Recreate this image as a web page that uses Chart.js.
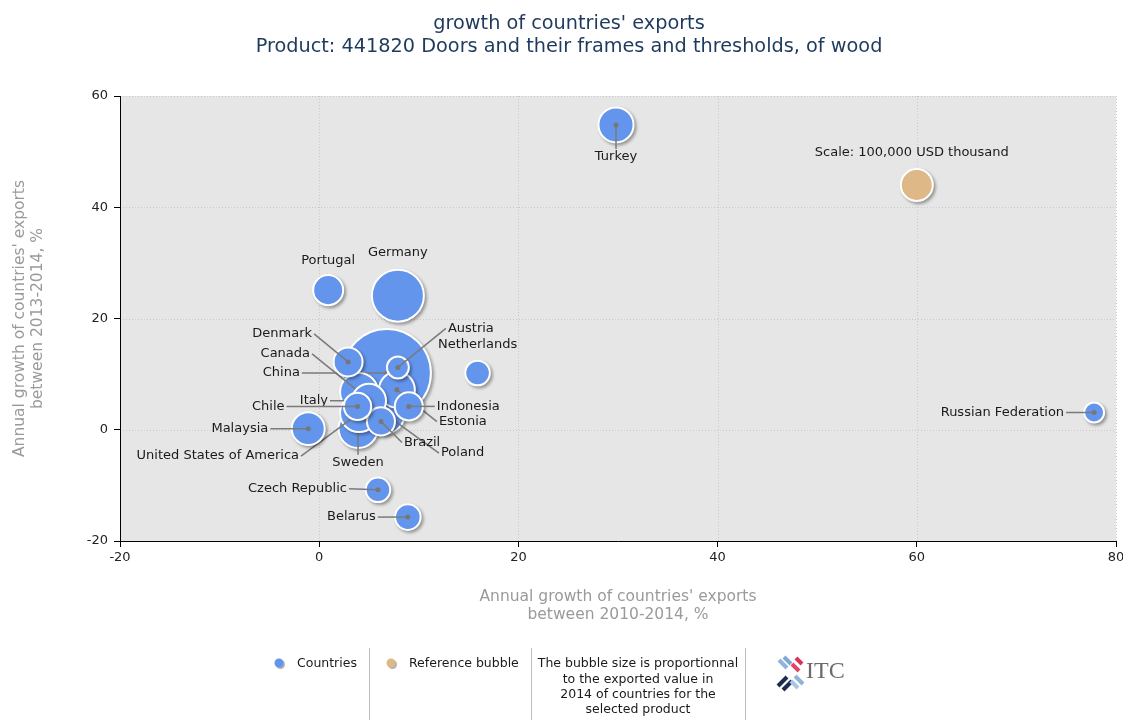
<!DOCTYPE html>
<html><head><meta charset="utf-8">
<script src="https://cdn.jsdelivr.net/npm/chart.js@4.4.1/dist/chart.umd.min.js"></script>
<style>html,body{margin:0;padding:0;background:#fff}canvas{display:block}</style>
</head><body>
<canvas id="c" width="1123" height="720"></canvas>
<script>
// ---- data ----
const countries = ["China","Germany","Poland","Sweden","USA","Canada","Estonia","Turkey","Italy","Malaysia","Portugal","Denmark","Indonesia","Brazil","Chile","Belarus","Czech Republic","Netherlands","Austria","Russian Federation"];
const countryLabels = ["China","Germany","Poland","Sweden","United States of America","Canada","Estonia","Turkey","Italy","Malaysia","Portugal","Denmark","Indonesia","Brazil","Chile","Belarus","Czech Republic","Netherlands","Austria","Russian Federation"];
const growth2010_2014 = [6.8, 7.9, 6.5, 3.9, 4.0, 4.0, 7.8, 29.8, 5.0, -1.1, 0.9, 2.9, 9.0, 6.2, 3.85, 8.9, 5.9, 15.9, 7.9, 77.8];
const growth2013_2014 = [10.2, 24.1, 3.0, 0.2, 3.0, 6.8, 7.2, 54.8, 5.2, 0.2, 25.1, 12.2, 4.2, 1.5, 4.2, -15.7, -10.8, 10.2, 11.2, 3.1];
const exports2014 = [756000, 264000, 172000, 148000, 141000, 141000, 126000, 120000, 113000, 106000, 88000, 82000, 77000, 77000, 73000, 64000, 59000, 59000, 47000, 39000];
const referenceLabel = "Scale: 100,000 USD thousand";
const referenceValue = 100000;
const referenceX = 60;
const referenceY = 44;
const xTicks = [-20, 0, 20, 40, 60, 80];
const yTicks = [-20, 0, 20, 40, 60];
const titleLines = ["growth of countries' exports", "Product: 441820 Doors and their frames and thresholds, of wood"];
const xTitleLines = ["Annual growth of countries' exports", "between 2010-2014, %"];
const yTitleLines = ["Annual growth of countries' exports", "between 2013-2014, %"];
const legendLabels = ["Countries", "Reference bubble"];
const noteLines = ["The bubble size is proportionnal", "to the exported value in", "2014 of countries for the", "selected product"];

// ---- presentation ----
const BLUE = '#6495ED', TAN = '#DEB887';
const FONT = '"DejaVu Sans", sans-serif';
const radiusOf = v => 16 * Math.sqrt(v / referenceValue);
// keep the plot area fixed: bubbles may overflow the chart area edge
Chart.BubbleController.prototype.getMaxOverflow = function () { return false; };
// label placement (pixel offset from bubble centre, alignment)
const labelLayout = {
  "China": [-87, 0, 'right'], "Germany": [0, -43, 'center'], "Poland": [57, 40, 'left'],
  "Sweden": [0, 34, 'center'], "USA": [-60, 43, 'right'], "Canada": [-49, -38, 'right'],
  "Estonia": [42, 32, 'left'], "Turkey": [0, 32, 'center'], "Italy": [-41, 0, 'right'],
  "Malaysia": [-40, 0, 'right'], "Portugal": [0, -30, 'center'], "Denmark": [-36, -28, 'right'],
  "Indonesia": [28, 0, 'left'], "Brazil": [23, 21, 'left'], "Chile": [-73, 0, 'right'],
  "Belarus": [-32, 0, 'right'], "Czech Republic": [-31, -1, 'right'], "Netherlands": [0, -28, 'center'],
  "Austria": [50, -39, 'left'], "Russian Federation": [-30, 0, 'right'], "__ref": [-5, -32, 'center']
};

const datasets = countries.map((c, i) => ({
  label: countryLabels[i], key: c,
  data: [{x: growth2010_2014[i], y: growth2013_2014[i], r: radiusOf(exports2014[i])}],
  backgroundColor: BLUE, borderColor: '#fff', borderWidth: 2, order: exports2014[i], clip: false
}));
datasets.push({label: referenceLabel, key: '__ref',
  data: [{x: referenceX, y: referenceY, r: radiusOf(referenceValue)}],
  backgroundColor: TAN, borderColor: '#fff', borderWidth: 2, order: -1, clip: false});

const plugin = {
  id: 'itc',
  beforeDraw(chart) {
    const {ctx, chartArea: a} = chart;
    ctx.save();
    ctx.fillStyle = '#fff'; ctx.fillRect(0, 0, chart.width, chart.height);
    ctx.fillStyle = '#E6E6E6'; ctx.fillRect(a.left, a.top, a.right - a.left, a.bottom - a.top);
    // dotted grid
    ctx.strokeStyle = '#c9c9c9'; ctx.lineWidth = 1; ctx.setLineDash([1, 2]);
    const xs = chart.scales.x, ys = chart.scales.y;
    xTicks.forEach(v => { const p = Math.round(xs.getPixelForValue(v)) + 0.5; ctx.beginPath(); ctx.moveTo(p, a.top); ctx.lineTo(p, a.bottom); ctx.stroke(); });
    yTicks.forEach(v => { const p = Math.round(ys.getPixelForValue(v)) + 0.5; ctx.beginPath(); ctx.moveTo(a.left, p); ctx.lineTo(a.right, p); ctx.stroke(); });
    ctx.setLineDash([]);
    // titles
    ctx.fillStyle = '#1F3A5C'; ctx.font = '19.3px ' + FONT; ctx.textAlign = 'center'; ctx.textBaseline = 'middle';
    ctx.fillText(titleLines[0], 569, 24); ctx.fillText(titleLines[1], 569, 47);
    ctx.fillStyle = '#9a9a9a'; ctx.font = '15.5px ' + FONT;
    const cx = (a.left + a.right) / 2;
    ctx.fillText(xTitleLines[0], cx, 597); ctx.fillText(xTitleLines[1], cx, 615);
    ctx.save(); ctx.translate(20, (a.top + a.bottom) / 2); ctx.rotate(-Math.PI / 2);
    ctx.fillText(yTitleLines[0], 0, 0); ctx.fillText(yTitleLines[1], 0, 18); ctx.restore();
    ctx.restore();
  },
  beforeDatasetDraw(chart, args) {
    const el = args.meta.data[0]; if (!el) return;
    const {ctx} = chart; const r = el.options.radius + 1;
    ctx.save(); ctx.filter = 'blur(1.5px)'; ctx.fillStyle = 'rgba(0,0,0,0.35)';
    ctx.beginPath(); ctx.arc(el.x + 2, el.y + 2, r, 0, Math.PI * 2); ctx.fill(); ctx.restore();
  },
  afterDatasetDraw(chart, args) {
    const ds = chart.data.datasets[args.index]; const el = args.meta.data[0]; if (!el) return;
    const lay = labelLayout[ds.key]; if (!lay) return;
    const {ctx} = chart; const [dx, dy, al] = lay;
    const tx = el.x + dx, ty = el.y + dy;
    ctx.save();
    ctx.font = '13px ' + FONT; ctx.textBaseline = 'middle'; ctx.textAlign = al;
    const hasLine = ds.key !== '__ref' && !(al === 'center' && dy < 0);
    if (hasLine) {
      let sx = tx, sy = ty;
      if (al === 'right') sx = tx + 2; else if (al === 'left') sx = tx - 2; else sy = ty - 8;
      ctx.strokeStyle = '#7a7a7a'; ctx.lineWidth = 1.5;
      ctx.beginPath(); ctx.moveTo(sx, sy); ctx.lineTo(el.x, el.y); ctx.stroke();
      ctx.fillStyle = '#777'; ctx.beginPath(); ctx.arc(el.x, el.y, 2.5, 0, Math.PI * 2); ctx.fill();
    }
    ctx.fillStyle = '#1a1a1a'; ctx.fillText(ds.label, tx, ty);
    ctx.restore();
  },
  afterDraw(chart) {
    const {ctx} = chart;
    ctx.save();
    // separators
    ctx.strokeStyle = '#bdbdbd'; ctx.lineWidth = 1;
    [369.5, 531.5, 745.5].forEach(x => { ctx.beginPath(); ctx.moveTo(x, 648); ctx.lineTo(x, 720); ctx.stroke(); });
    const dot = (x, y, c) => {
      ctx.fillStyle = 'rgba(0,0,0,0.3)'; ctx.beginPath(); ctx.arc(x + 1.5, y + 1.5, 4.5, 0, Math.PI * 2); ctx.fill();
      ctx.fillStyle = c; ctx.beginPath(); ctx.arc(x, y, 4.5, 0, Math.PI * 2); ctx.fill();
    };
    dot(279, 663, BLUE); dot(391, 663, TAN);
    ctx.fillStyle = '#1a1a1a'; ctx.font = '12.5px ' + FONT; ctx.textBaseline = 'middle'; ctx.textAlign = 'left';
    ctx.fillText(legendLabels[0], 297, 664); ctx.fillText(legendLabels[1], 409, 664);
    ctx.textAlign = 'center';
    noteLines.forEach((t, i) => ctx.fillText(t, 638, 664 + i * 15.3));
    // ITC logo
    const bar = (x1, y1, x2, y2, c) => { ctx.strokeStyle = c; ctx.lineWidth = 4; ctx.lineCap = 'butt'; ctx.beginPath(); ctx.moveTo(x1, y1); ctx.lineTo(x2, y2); ctx.stroke(); };
    bar(779, 660, 787, 668, '#8fb3d9'); bar(784, 657, 791, 664, '#7fa8d4');
    bar(796, 658, 802, 664, '#d9335a'); bar(792, 664, 799, 671, '#e04466');
    bar(778, 686, 787, 677, '#1d2d4f'); bar(783, 690, 792, 681, '#1d2d4f');
    bar(795, 676, 803, 684, '#8fb3d9'); bar(791, 681, 798, 688, '#a9c6e4');
    ctx.fillStyle = '#6b6b6b'; ctx.font = '24px "Liberation Serif", "DejaVu Serif", serif'; ctx.textAlign = 'left';
    ctx.fillText('ITC', 806, 672);
    ctx.restore();
  }
};

new Chart(document.getElementById('c'), {
  type: 'bubble',
  data: {datasets},
  plugins: [plugin],
  options: {
    responsive: false, animation: false, events: [],
    layout: {padding: {top: 96, right: 7, left: 0, bottom: 0}},
    plugins: {legend: {display: false}, tooltip: {enabled: false}, title: {display: false}},
    scales: {
      x: {type: 'linear', min: -20, max: 80,
        afterBuildTicks: s => { s.ticks = xTicks.map(v => ({value: v})); },
        afterFit: s => { s.height = 179; s.paddingLeft = 0; s.paddingRight = 0; },
        grid: {drawOnChartArea: false, drawTicks: true, tickLength: 6, tickColor: '#000'},
        border: {display: true, color: '#000', width: 1},
        ticks: {color: '#222', font: {family: FONT, size: 13}, padding: 3}},
      y: {type: 'linear', min: -20, max: 60,
        afterBuildTicks: s => { s.ticks = yTicks.map(v => ({value: v})); },
        afterFit: s => { s.width = 120; s.paddingTop = 0; s.paddingBottom = 0; },
        grid: {drawOnChartArea: false, drawTicks: true, tickLength: 6, tickColor: '#000'},
        border: {display: true, color: '#000', width: 1},
        ticks: {color: '#222', font: {family: FONT, size: 13}, padding: 6}}
    }
  }
});
</script>
</body></html>
